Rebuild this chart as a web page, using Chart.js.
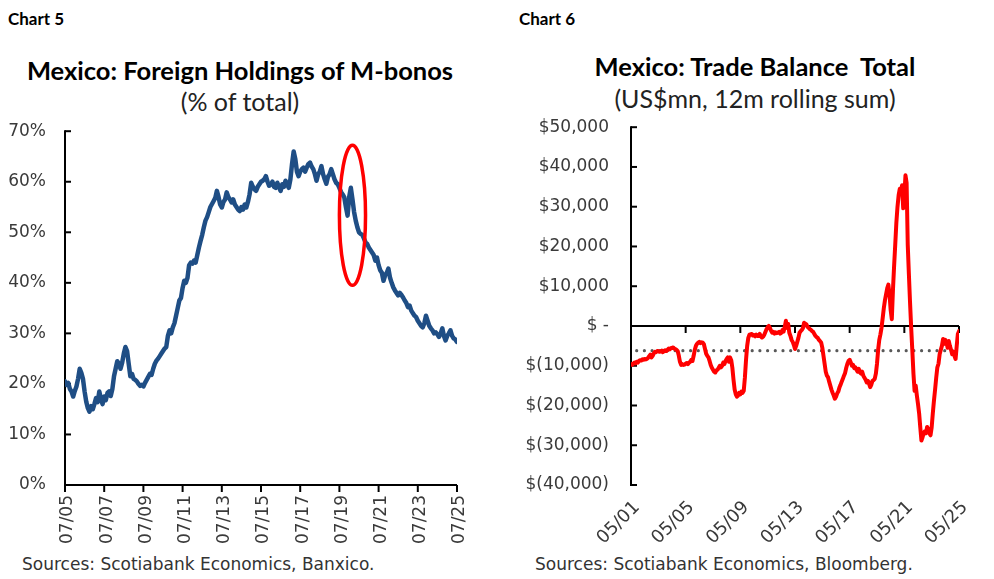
<!DOCTYPE html>
<html>
<head>
<meta charset="utf-8">
<script src="https://cdn.jsdelivr.net/npm/chart.js@4.4.1/dist/chart.umd.min.js"></script>
<style>
  html, body { margin: 0; padding: 0; background: #fff; }
  body { width: 994px; height: 579px; position: relative; overflow: hidden; font-family: "DejaVu Sans", sans-serif; }
  .lbl { position: absolute; white-space: nowrap; color: #000; }
  .chartno { font-family: Lato, sans-serif; font-weight: 700; font-size: 17px; top: 8px; }
  .title { font-family: Lato, sans-serif; font-weight: 700; font-size: 25.5px; text-align: center; }
  .sub { font-family: Lato, sans-serif; font-weight: 400; font-size: 25px; text-align: center; color: #222; }
  .src { font-family: "DejaVu Sans", sans-serif; font-size: 17px; color: #333; top: 554px; }
  canvas { position: absolute; }
</style>
</head>
<body>
<div class="lbl chartno" style="left:8px;">Chart 5</div>
<div class="lbl chartno" style="left:519px;">Chart 6</div>
<div class="lbl title" style="left:0px; width:480px; top:55px;">Mexico: Foreign Holdings of M-bonos</div>
<div class="lbl sub" style="left:0px; width:480px; top:86px;">(% of total)</div>
<div class="lbl title" style="left:505px; width:500px; top:51px;">Mexico: Trade Balance&nbsp; Total</div>
<div class="lbl sub" style="left:505px; width:500px; top:83px;">(US$mn, 12m rolling sum)</div>
<div class="lbl src" style="left:22px;">Sources: Scotiabank Economics, Banxico.</div>
<div class="lbl src" style="left:535px;">Sources: Scotiabank Economics, Bloomberg.</div>
<canvas id="c1" width="490" height="458" style="left:0px; top:102px;"></canvas>
<canvas id="c2" width="497" height="465" style="left:497px; top:95px;"></canvas>
<script>
// ---------- Chart 5 data: monthly, Jul 2005 .. Jul 2025 (% of total) ----------
const holdingsStart = 'Jul 2005';
const holdings = [
  20.5,19.8,20.2,19.0,18.5,17.5,18.6,19.5,21.0,23.0,22.2,21.0,
  18.5,16.5,15.2,14.5,15.6,15.0,16.0,17.2,16.4,18.5,17.0,16.0,
  17.5,16.8,18.2,18.5,17.6,19.0,21.5,23.0,24.5,24.0,23.0,24.2,
  26.0,27.3,26.5,24.0,21.5,22.0,21.0,20.8,20.5,20.0,19.6,19.8,
  19.5,20.2,20.8,21.4,22.0,21.8,23.0,24.0,24.6,25.0,25.5,26.0,
  26.5,27.0,27.3,29.5,30.6,30.0,31.2,32.0,33.5,35.0,36.5,37.0,
  39.0,40.4,40.0,41.0,43.5,44.0,43.8,44.4,44.0,45.5,47.0,48.3,
  49.5,51.0,52.3,53.0,54.0,55.0,55.6,56.2,56.8,58.2,57.0,55.5,
  54.9,56.0,56.5,57.9,57.0,56.5,55.9,56.5,55.5,55.0,54.5,54.2,
  55.0,54.5,55.5,54.9,56.0,57.5,59.8,59.0,58.5,58.2,59.0,59.5,
  60.0,60.2,60.5,61.1,60.0,59.2,59.5,60.0,59.0,58.8,59.8,59.0,
  58.2,59.5,59.0,60.2,59.5,58.8,60.5,63.5,66.0,64.5,62.0,61.1,
  62.0,62.5,62.8,62.0,62.8,63.5,63.8,63.0,62.5,61.5,60.2,61.5,
  62.0,63.1,61.5,60.5,59.6,61.0,61.5,62.5,61.5,60.5,59.8,59.5,
  58.8,58.0,57.5,56.9,55.0,53.3,57.0,58.8,56.5,54.0,52.3,51.0,
  50.0,49.7,49.5,48.8,48.0,47.7,47.0,46.5,46.0,45.5,44.4,45.0,
  43.5,42.5,42.0,40.4,41.5,42.0,42.8,41.0,40.0,39.1,38.5,38.0,
  37.5,38.0,37.6,37.1,36.5,36.0,35.2,35.5,34.5,34.0,33.5,33.2,
  32.5,32.0,31.5,31.2,32.0,33.5,32.5,31.5,31.0,30.6,30.0,30.2,
  29.8,29.3,30.0,31.0,29.5,28.6,29.5,30.0,30.6,29.5,29.0,28.8,
  28.3
];
const holdingsTickLabels = ['07/05','07/07','07/09','07/11','07/13','07/15','07/17','07/19','07/21','07/23','07/25'];
const holdingsYTicks = [0, 10, 20, 30, 40, 50, 60, 70];

// ---------- Chart 6 data: monthly, May 2001 .. May 2025 (US$mn, 12m rolling sum, thousands) ----------
const tradeStart = 'May 2001';
const tradeBalanceK = [
  -9.6,-9.8,-9.5,-9.2,-9.4,-9.0,-9.2,-8.8,-8.6,-8.7,-8.4,-8.5,
  -8.3,-8.4,-8.3,-8.0,-7.6,-7.2,-7.9,-7.5,-6.9,-6.5,-6.6,-6.3,
  -6.3,-6.5,-6.4,-6.2,-6.6,-6.3,-6.1,-6.3,-6.0,-5.7,-5.9,-5.6,
  -5.5,-5.4,-5.7,-5.8,-6.0,-6.3,-7.5,-9.0,-9.8,-9.6,-9.8,-9.7,
  -9.5,-9.3,-9.6,-9.2,-9.0,-8.5,-8.8,-7.5,-6.0,-5.0,-4.5,-4.2,
  -4.0,-4.3,-4.1,-4.2,-4.6,-5.8,-7.0,-7.5,-7.9,-8.8,-9.8,-10.5,
  -11.0,-11.5,-11.7,-11.2,-11.0,-10.5,-10.0,-10.4,-10.0,-9.2,-9.6,-8.8,
  -8.3,-7.9,-9.0,-7.9,-8.6,-10.5,-13.5,-16.0,-17.2,-17.8,-17.5,-16.8,
  -17.2,-16.5,-16.8,-16.3,-13.0,-8.5,-5.0,-3.0,-2.2,-2.1,-2.0,-2.4,
  -2.3,-2.6,-2.2,-2.5,-2.5,-2.0,-2.6,-2.9,-2.7,-2.2,-1.5,-0.8,
  -0.3,0.0,-0.5,-1.2,-1.7,-1.5,-1.9,-1.6,-1.8,-1.7,-1.5,-1.9,
  -1.7,-1.0,-1.4,-0.2,1.3,-0.5,0.5,-1.7,-2.5,-3.5,-4.0,-4.8,
  -5.8,-5.0,-4.0,-3.0,-1.7,-1.3,-1.0,-0.5,0.8,0.6,0.4,-0.2,
  -0.5,-0.8,-1.0,-1.3,-1.5,-2.0,-2.5,-2.8,-3.0,-3.5,-3.8,-4.2,
  -5.5,-7.5,-9.5,-11.5,-12.5,-12.9,-14.0,-15.0,-16.0,-16.8,-17.5,-18.3,
  -17.8,-17.0,-16.5,-15.5,-14.8,-14.0,-13.3,-12.5,-11.8,-10.5,-9.5,-8.8,
  -8.5,-9.2,-10.0,-9.8,-10.6,-10.4,-11.0,-11.5,-10.8,-11.7,-12.0,-11.5,
  -12.5,-13.0,-13.5,-14.2,-13.8,-14.5,-15.4,-14.8,-13.8,-13.6,-13.3,-12.0,
  -9.5,-6.0,-3.5,-2.1,-0.4,2.0,4.5,6.5,8.0,9.5,10.4,8.0,
  4.0,1.7,9.0,15.0,20.4,26.0,30.0,32.9,34.5,33.8,35.4,29.6,
  33.0,37.9,36.0,20.4,13.0,6.0,-0.4,-6.0,-12.0,-16.3,-15.0,-17.5,
  -19.6,-22.0,-25.5,-28.8,-28.0,-27.0,-26.5,-27.0,-25.4,-26.0,-27.0,-27.5,
  -25.5,-22.0,-18.8,-16.0,-13.0,-10.4,-9.5,-7.1,-6.0,-5.0,-3.3,-4.5,
  -3.5,-4.0,-5.5,-3.8,-5.0,-6.0,-7.1,-6.5,-7.5,-8.3,-5.0,-2.0,
  -1.3
];
const tradeAverageK = [-6.2];
const tradeTickLabels = ['05/01','05/05','05/09','05/13','05/17','05/21','05/25'];
const tradeYTicks = [-40000, -30000, -20000, -10000, 0, 10000, 20000, 30000, 40000, 50000];

// ---------- helpers ----------
const TICK_FONT = { family: '"DejaVu Sans", sans-serif', size: 17 };
const TICK_FONT_DIAG = { family: '"DejaVu Sans", sans-serif', size: 18 };
const TICK_COLOR = '#3a3a3a';

const axisPlugin = {
  id: 'axisPlugin',
  beforeDatasetsDraw(chart, args, opts) {
    const { ctx, chartArea: a, scales: { x, y } } = chart;
    ctx.save();
    ctx.strokeStyle = '#000';
    ctx.lineWidth = 2;
    ctx.lineCap = 'butt';
    const yTop = y.getPixelForValue(y.max), yBot = y.getPixelForValue(y.min);
    ctx.beginPath(); ctx.moveTo(a.left, yTop - 1); ctx.lineTo(a.left, yBot + 1); ctx.stroke();
    y.ticks.forEach(t => {
      const py = y.getPixelForValue(t.value);
      ctx.beginPath(); ctx.moveTo(a.left, py); ctx.lineTo(a.left + 6, py); ctx.stroke();
    });
    const base = y.getPixelForValue(opts.xAxisAt);
    ctx.beginPath(); ctx.moveTo(x.getPixelForValue(x.min), base); ctx.lineTo(x.getPixelForValue(x.max), base); ctx.stroke();
    x.ticks.forEach(t => {
      const px = x.getPixelForValue(t.value);
      ctx.beginPath(); ctx.moveTo(px, base); ctx.lineTo(px, base + 7); ctx.stroke();
    });
    ctx.restore();
  }
};

const ellipsePlugin = {
  id: 'ellipsePlugin',
  afterDatasetsDraw(chart, args, opts) {
    if (!opts || !opts.show) return;
    const { ctx, scales: { x, y } } = chart;
    const x0 = x.getPixelForValue(opts.xMin), x1 = x.getPixelForValue(opts.xMax);
    const y0 = y.getPixelForValue(opts.yMax), y1 = y.getPixelForValue(opts.yMin);
    ctx.save();
    ctx.strokeStyle = '#FF0000';
    ctx.lineWidth = 3.5;
    ctx.beginPath();
    ctx.ellipse((x0 + x1) / 2, (y0 + y1) / 2, (x1 - x0) / 2, (y1 - y0) / 2, 0, 0, Math.PI * 2);
    ctx.stroke();
    ctx.restore();
  }
};

function fmtMoney(v) {
  if (v === 0) return '$ -';
  const s = Math.abs(v).toLocaleString('en-US');
  return v < 0 ? '$(' + s + ')' : '$' + s;
}

// ---------- Chart 5 ----------
new Chart(document.getElementById('c1'), {
  type: 'line',
  data: {
    datasets: [{
      data: holdings.map((v, i) => ({ x: i, y: v })),
      borderColor: '#1F4E85',
      borderWidth: 4.5,
      pointRadius: 0,
      tension: 0,
      borderJoinStyle: 'round',
      borderCapStyle: 'round'
    }]
  },
  options: {
    responsive: false,
    animation: false,
    events: [],
    layout: { autoPadding: false, padding: { left: 0, right: 33, top: 10, bottom: 0 } },
    plugins: {
      legend: { display: false },
      tooltip: { enabled: false },
      axisPlugin: { xAxisAt: 0 },
      ellipsePlugin: { show: true, xMin: 168, xMax: 184, yMin: 39.5, yMax: 67.2 }
    },
    scales: {
      x: {
        type: 'linear', min: 0, max: holdings.length - 1,
        border: { display: false },
        grid: { display: false, drawTicks: false },
        afterFit(s) { s.height = 75; },
        afterBuildTicks(s) { s.ticks = holdingsTickLabels.map((l, i) => ({ value: i * 24 })); },
        ticks: {
          autoSkip: false, minRotation: 90, maxRotation: 90, padding: 10, labelOffset: 3,
          font: TICK_FONT, color: TICK_COLOR,
          callback: (v) => holdingsTickLabels[Math.round(v / 24)]
        }
      },
      y: {
        min: 0, max: 70,
        border: { display: false },
        grid: { display: false, drawTicks: false },
        afterFit(s) { s.width = 65; },
        afterBuildTicks(s) { s.ticks = holdingsYTicks.map(v => ({ value: v })); },
        ticks: { padding: 19, font: TICK_FONT, color: TICK_COLOR, callback: (v) => v + '%' }
      }
    }
  },
  plugins: [axisPlugin, ellipsePlugin]
});

// ---------- Chart 6 ----------
const lastIdx = tradeBalanceK.length - 1;
new Chart(document.getElementById('c2'), {
  type: 'line',
  data: {
    datasets: [{
      data: tradeBalanceK.map((v, i) => ({ x: i, y: v * 1000 })),
      borderColor: '#FF0000',
      borderWidth: 4,
      pointRadius: 0,
      tension: 0,
      borderJoinStyle: 'round',
      borderCapStyle: 'round'
    }, {
      data: [{ x: 5, y: tradeAverageK[0] * 1000 }, { x: lastIdx - 4, y: tradeAverageK[0] * 1000 }],
      borderColor: '#595959',
      borderWidth: 3.2,
      borderDash: [0, 7.7],
      borderCapStyle: 'round',
      pointRadius: 0
    }]
  },
  options: {
    responsive: false,
    animation: false,
    events: [],
    layout: { autoPadding: false, padding: { left: 0, right: 35, top: 10, bottom: 0 } },
    plugins: {
      legend: { display: false },
      tooltip: { enabled: false },
      axisPlugin: { xAxisAt: 0 },
      ellipsePlugin: { show: false }
    },
    scales: {
      x: {
        type: 'linear', min: 0, max: lastIdx,
        border: { display: false },
        grid: { display: false, drawTicks: false },
        afterFit(s) { s.height = 75; },
        afterBuildTicks(s) { s.ticks = tradeTickLabels.map((l, i) => ({ value: i * 48 })); },
        ticks: {
          autoSkip: false, minRotation: 45, maxRotation: 45, padding: 12, labelOffset: 6,
          font: TICK_FONT_DIAG, color: TICK_COLOR,
          callback: (v) => tradeTickLabels[Math.round(v / 48)]
        }
      },
      y: {
        min: -40000, max: 50000,
        border: { display: false },
        grid: { display: false, drawTicks: false },
        afterFit(s) { s.width = 134; },
        afterBuildTicks(s) { s.ticks = tradeYTicks.map(v => ({ value: v })); },
        ticks: { padding: 22, font: TICK_FONT, color: TICK_COLOR, callback: (v) => fmtMoney(v) }
      }
    }
  },
  plugins: [axisPlugin, ellipsePlugin]
});
</script>
</body>
</html>
